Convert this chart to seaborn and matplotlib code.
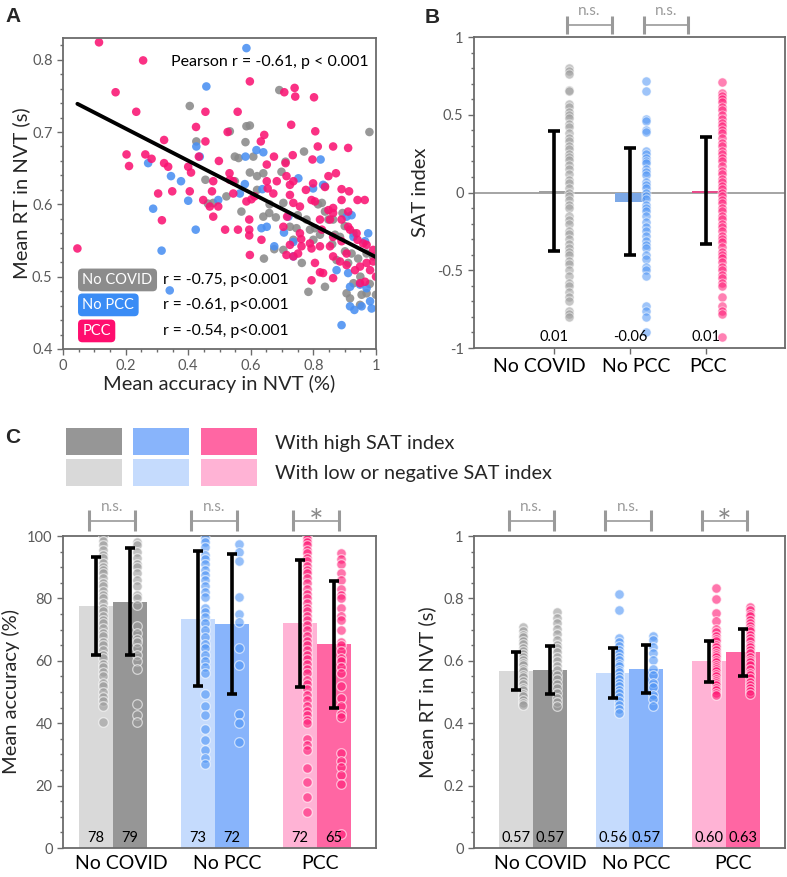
import numpy as np
import pandas as pd
import seaborn as sns
import matplotlib.pyplot as plt
from matplotlib.patches import Rectangle
from matplotlib.ticker import MultipleLocator
from matplotlib.transforms import ScaledTranslation

groups = ["No COVID", "No PCC", "PCC"]

# ---- panel A: accuracy vs RT per participant (acc, rt)
gray_pts = [(0.405, 0.736), (0.691, 0.758), (0.586, 0.708), (0.597, 0.709), (0.583, 0.686), (0.426, 0.687),
            (0.597, 0.644), (0.533, 0.701), (0.549, 0.666), (0.561, 0.664), (0.608, 0.666), (0.620, 0.639),
            (0.640, 0.643), (0.711, 0.659), (0.698, 0.645), (0.770, 0.673), (0.979, 0.700), (0.455, 0.634),
            (0.463, 0.601), (0.480, 0.602), (0.522, 0.611), (0.549, 0.632), (0.570, 0.590), (0.640, 0.583),
            (0.659, 0.588), (0.680, 0.582), (0.642, 0.525), (0.675, 0.538), (0.704, 0.602), (0.725, 0.569),
            (0.746, 0.567), (0.763, 0.519), (0.778, 0.579), (0.789, 0.565), (0.805, 0.567), (0.827, 0.602),
            (0.837, 0.590), (0.863, 0.579), (0.893, 0.588), (0.901, 0.535), (0.922, 0.532), (0.784, 0.479),
            (0.837, 0.486), (0.906, 0.477), (0.917, 0.470), (0.949, 0.461), (0.954, 0.475), (0.970, 0.477),
            (1.000, 0.475), (0.928, 0.491), (0.874, 0.523), (0.911, 0.519), (0.943, 0.525), (0.970, 0.532),
            (0.991, 0.528), (0.800, 0.551), (0.821, 0.558), (0.885, 0.555), (0.736, 0.551), (0.704, 0.537),
            (0.928, 0.560), (0.837, 0.625), (0.848, 0.579), (0.869, 0.558), (0.620, 0.620), (0.660, 0.600),
            (0.750, 0.585), (0.860, 0.545), (0.950, 0.500), (0.980, 0.490), (0.900, 0.570), (0.815, 0.600)]
blue_pts = [(0.586, 0.816), (0.458, 0.763), (0.426, 0.680), (0.437, 0.666), (0.272, 0.657), (0.345, 0.639),
            (0.377, 0.632), (0.400, 0.605), (0.288, 0.594), (0.424, 0.565), (0.315, 0.536), (0.341, 0.481),
            (0.583, 0.666), (0.618, 0.675), (0.640, 0.672), (0.823, 0.662), (0.496, 0.606), (0.581, 0.628),
            (0.565, 0.615), (0.637, 0.621), (0.651, 0.569), (0.634, 0.567), (0.675, 0.542), (0.706, 0.561),
            (0.736, 0.528), (0.752, 0.636), (0.736, 0.548), (0.720, 0.583), (0.799, 0.622), (0.831, 0.627),
            (0.874, 0.509), (0.911, 0.505), (0.917, 0.486), (0.931, 0.454), (0.917, 0.459), (0.890, 0.433),
            (0.975, 0.560), (0.965, 0.549), (0.981, 0.466), (0.986, 0.456), (0.954, 0.459), (0.949, 0.489),
            (0.928, 0.555), (0.906, 0.583), (0.922, 0.585), (0.970, 0.484)]
pink_pts = [(0.115, 0.824), (0.256, 0.799), (0.168, 0.755), (0.234, 0.728), (0.046, 0.539), (0.597, 0.770),
            (0.707, 0.755), (0.740, 0.761), (0.742, 0.749), (0.802, 0.748), (0.558, 0.728), (0.455, 0.728),
            (0.425, 0.707), (0.455, 0.687), (0.526, 0.700), (0.643, 0.696), (0.729, 0.710), (0.806, 0.701),
            (0.814, 0.680), (0.863, 0.680), (0.911, 0.678), (0.632, 0.687), (0.323, 0.689), (0.203, 0.669),
            (0.211, 0.653), (0.263, 0.669), (0.283, 0.663), (0.323, 0.657), (0.336, 0.652), (0.400, 0.652),
            (0.409, 0.644), (0.434, 0.666), (0.498, 0.660), (0.532, 0.643), (0.674, 0.666), (0.734, 0.668),
            (0.711, 0.657), (0.651, 0.655), (0.797, 0.662), (0.848, 0.639), (0.872, 0.643), (0.890, 0.621),
            (0.914, 0.618), (0.837, 0.624), (0.304, 0.615), (0.349, 0.618), (0.405, 0.618), (0.316, 0.578),
            (0.480, 0.583), (0.518, 0.565), (0.559, 0.565), (0.595, 0.579), (0.595, 0.565), (0.595, 0.557),
            (0.597, 0.530), (0.634, 0.551), (0.714, 0.530), (0.736, 0.528), (0.751, 0.532), (0.757, 0.560),
            (0.761, 0.552), (0.794, 0.539), (0.794, 0.495), (0.863, 0.498), (0.821, 0.506), (0.831, 0.505),
            (0.805, 0.519), (1.000, 0.500), (0.911, 0.590), (0.941, 0.606), (0.964, 0.606), (0.890, 0.606),
            (0.863, 0.595), (0.794, 0.606), (0.805, 0.604), (0.757, 0.597), (0.736, 0.602), (0.725, 0.613),
            (0.776, 0.620), (0.799, 0.629), (0.725, 0.627), (0.736, 0.632), (0.714, 0.639), (0.683, 0.632),
            (0.651, 0.632), (0.654, 0.622), (0.672, 0.615), (0.612, 0.611), (0.586, 0.604), (0.602, 0.607),
            (0.544, 0.615), (0.533, 0.634), (0.480, 0.632), (0.476, 0.618), (0.469, 0.597), (0.496, 0.597),
            (0.448, 0.606), (0.821, 0.579), (0.827, 0.565), (0.853, 0.579), (0.848, 0.592), (0.863, 0.588),
            (0.890, 0.579), (0.911, 0.569), (0.917, 0.565), (0.938, 0.560), (0.941, 0.551), (0.959, 0.546),
            (0.970, 0.544), (0.991, 0.537), (0.991, 0.521), (0.970, 0.519), (0.949, 0.514), (0.906, 0.516),
            (0.885, 0.521), (0.863, 0.528), (0.853, 0.542), (0.821, 0.542), (0.789, 0.546), (0.762, 0.542),
            (0.725, 0.544), (0.704, 0.569), (0.716, 0.583), (0.933, 0.509), (0.949, 0.491), (0.965, 0.493),
            (0.981, 0.509), (0.906, 0.532), (0.863, 0.555), (0.890, 0.549), (0.544, 0.632)]
# fitted line end points
fit_acc = [0.046, 1.0]
fit_rt = [0.739, 0.527]
group_r = ["r = -0.75, p<0.001", "r = -0.61, p<0.001", "r = -0.54, p<0.001"]
pearson_text = "Pearson r = -0.61, p < 0.001"

# ---- panel B: SAT index
sat_nocovid = [0.80, 0.78, 0.76, 0.66, 0.65, 0.57, 0.55, 0.52, 0.50, 0.48, 0.44, 0.42, 0.38, 0.35, 0.33,
               0.30, 0.28, 0.25, 0.23, 0.21, 0.18, 0.15, 0.12, 0.08, 0.06, 0.03, 0.0, -0.02, -0.05, -0.08,
               -0.10, -0.15, -0.18, -0.20, -0.25, -0.27, -0.30, -0.33, -0.36, -0.38, -0.40, -0.44, -0.46,
               -0.50, -0.54, -0.58, -0.60, -0.64, -0.67, -0.70, -0.76, -0.78, -0.80]
sat_nopcc = [0.72, 0.65, 0.47, 0.46, 0.40, 0.39, 0.27, 0.25, 0.22, 0.20, 0.19, 0.15, 0.13, 0.11, 0.07, 0.05,
             0.03, 0.0, -0.02, -0.04, -0.08, -0.10, -0.12, -0.15, -0.19, -0.22, -0.25, -0.28, -0.31, -0.34,
             -0.36, -0.40, -0.43, -0.48, -0.50, -0.54, -0.73, -0.76, -0.80, -0.90]
sat_pcc = [0.71, 0.64, 0.62, 0.60, 0.58, 0.55, 0.53, 0.50, 0.47, 0.45, 0.43, 0.40, 0.38, 0.35, 0.32, 0.30,
           0.27, 0.25, 0.22, 0.20, 0.17, 0.14, 0.12, 0.09, 0.07, 0.04, 0.02, 0.0, -0.02, -0.05, -0.07, -0.10,
           -0.12, -0.15, -0.17, -0.20, -0.22, -0.25, -0.28, -0.30, -0.32, -0.35, -0.38, -0.40, -0.42, -0.45,
           -0.48, -0.50, -0.53, -0.55, -0.58, -0.60, -0.67, -0.73, -0.76, -0.78, -0.93]
sat_mean = [0.01, -0.06, 0.01]
sat_sd = [0.385, 0.343, 0.344]
sat_labels = ["0.01", "-0.06", "0.01"]

# ---- panel C: accuracy / RT split by SAT index (low = light, high = dark)
acc_low_mean = [77.5, 73.5, 72.0]
acc_high_mean = [79.0, 71.8, 65.3]
acc_low_sd = [15.8, 21.6, 20.3]
acc_high_sd = [17.3, 22.5, 20.3]
acc_low_lbl = ["78", "73", "72"]
acc_high_lbl = ["79", "72", "65"]
acc_low_pts = [
    [100, 98.5, 97, 95.5, 94, 93, 91.5, 90, 89, 88, 86.5, 85, 84, 82.5, 81, 80, 78.5, 77, 76, 74.5, 73, 72,
     70.5, 69, 68, 66, 65, 63.5, 62, 61, 59, 58, 56.5, 55, 53, 52, 50, 48.5, 47, 45.5, 40.5],
    [99.5, 98, 96.5, 94, 92.5, 91, 89, 87.5, 86, 84, 82, 80.5, 77, 75.5, 74, 72, 70, 67.5, 65.5, 64, 62, 60,
     58, 56, 49.5, 45.5, 42.5, 38, 34.5, 31.5, 29, 27],
    [100, 99, 98, 97, 95.5, 94.5, 93, 92, 90.5, 89, 88, 86.5, 85, 83, 81.5, 80, 78.5, 77, 76, 74.5, 73, 71.5,
     70, 68, 66.5, 65, 63.5, 62, 60.5, 59, 57.5, 56, 54, 52.5, 51, 49, 47.5, 45.5, 44, 42.5, 41, 40, 35, 33,
     31.5, 25.5, 21, 16.5, 11.5]]
acc_high_pts = [
    [98, 97, 95, 93, 91, 90, 88, 86, 84, 81, 80, 78, 71, 69, 67, 66, 64, 62, 60, 57.5, 46, 42.5, 40.5],
    [97.5, 95, 92, 80.5, 75, 72.5, 64, 58.5, 43, 40, 34],
    [94.5, 92.5, 91, 88, 86, 83, 81, 80, 77, 74.5, 73, 70, 66, 65, 63, 61, 60, 58, 56, 52, 48, 45.5, 43, 42,
     30.5, 28, 26, 23.5, 20.5, 4.5]]

rt_low_mean = [0.567, 0.562, 0.598]
rt_high_mean = [0.571, 0.574, 0.627]
rt_low_sd = [0.061, 0.080, 0.065]
rt_high_sd = [0.078, 0.078, 0.076]
rt_low_lbl = ["0.57", "0.56", "0.60"]
rt_high_lbl = ["0.57", "0.57", "0.63"]
rt_low_pts = [
    [0.708, 0.697, 0.684, 0.676, 0.662, 0.655, 0.641, 0.633, 0.622, 0.611, 0.604, 0.592, 0.586, 0.573, 0.566,
     0.553, 0.547, 0.534, 0.527, 0.512, 0.505, 0.493, 0.486, 0.474, 0.466, 0.458],
    [0.815, 0.763, 0.672, 0.661, 0.648, 0.635, 0.624, 0.612, 0.603, 0.591, 0.582, 0.571, 0.563, 0.552, 0.541,
     0.528, 0.519, 0.507, 0.496, 0.485, 0.472, 0.458, 0.446, 0.434],
    [0.832, 0.798, 0.754, 0.726, 0.703, 0.692, 0.681, 0.671, 0.662, 0.652, 0.643, 0.634, 0.626, 0.618, 0.611,
     0.603, 0.596, 0.588, 0.581, 0.573, 0.566, 0.558, 0.551, 0.543, 0.536, 0.528, 0.521, 0.513, 0.506, 0.498,
     0.491]]
rt_high_pts = [
    [0.758, 0.736, 0.722, 0.703, 0.686, 0.668, 0.652, 0.641, 0.628, 0.613, 0.598, 0.584, 0.571, 0.556, 0.542,
     0.527, 0.513, 0.497, 0.482, 0.468, 0.455],
    [0.678, 0.668, 0.643, 0.624, 0.601, 0.574, 0.553, 0.528, 0.517, 0.491, 0.478, 0.456],
    [0.771, 0.762, 0.751, 0.742, 0.731, 0.722, 0.713, 0.703, 0.694, 0.683, 0.672, 0.663, 0.652, 0.643, 0.634,
     0.624, 0.613, 0.604, 0.596, 0.585, 0.574, 0.562, 0.553, 0.544, 0.532, 0.521, 0.512, 0.503, 0.494]]

# colours
pt_col = ["#8a8a8a", "#4a90f2", "#fa1473"]
box_col = ["#8c8c8c", "#3a8cf5", "#ff0d6e"]
strip_col = ["#9a9a9a", "#4f95f5", "#ff1a75"]
bar_dark = ["#969696", "#88b4fb", "#ff66a3"]
bar_light = ["#d9d9d9", "#c5dbfd", "#ffb3d5"]
bracket_col = "#9a9a9a"

sns.set_theme(style="ticks")
plt.rcParams["font.family"] = ["Lato", "DejaVu Sans"]
plt.rcParams["axes.linewidth"] = 1.3

W, H = 787, 877
LABEL_FS = 14.5
CAT_FS = 14


def rect(l, t, r, b):
    return [l / W, 1 - b / H, (r - l) / W, (b - t) / H]


def style_axes(ax):
    for s in ax.spines.values():
        s.set_visible(True)
        s.set_color("#6b6b6b")
        s.set_linewidth(1.3)
    ax.tick_params(which="both", direction="out", color="#6b6b6b", labelcolor="#5a5a5a",
                   labelsize=10.5, width=1)
    ax.tick_params(which="major", length=4)
    ax.tick_params(which="minor", length=2.5)


def shift_xlabels(ax, shifts_px):
    for lab, dx in zip(ax.get_xticklabels(), shifts_px):
        lab.set_transform(lab.get_transform() + ScaledTranslation(dx / 100, 0, fig.dpi_scale_trans))


def bracket(ax, x1, x2, ylo, ymid, yhi, label, ytxt, fs, col=bracket_col):
    kw = dict(color=bracket_col, clip_on=False, solid_capstyle="butt")
    ax.plot([x1, x1], [ylo, yhi], lw=2.2, **kw)
    ax.plot([x2, x2], [ylo, yhi], lw=2.2, **kw)
    ax.plot([x1, x2], [ymid, ymid], lw=1.2, **kw)
    ax.text((x1 + x2) / 2, ytxt, label, ha="center", va="center", color=col, fontsize=fs, clip_on=False)


fig = plt.figure(figsize=(W / 100, H / 100), dpi=100)
axA = fig.add_axes(rect(63, 38, 376, 349))
axB = fig.add_axes(rect(474, 37, 785, 348))
axC1 = fig.add_axes(rect(63, 536, 376, 848))
axC2 = fig.add_axes(rect(474, 536, 785, 848))

# ---------------- A
rows = []
for g, pts in zip(groups, [gray_pts, blue_pts, pink_pts]):
    for a, r in pts:
        rows.append((g, a, r))
dfA = pd.DataFrame(rows, columns=["group", "acc", "rt"])
sns.scatterplot(data=dfA, x="acc", y="rt", hue="group", palette=dict(zip(groups, pt_col)),
                s=38, alpha=0.88, linewidth=0, legend=False, ax=axA)
sns.lineplot(x=fit_acc, y=fit_rt, color="black", lw=2.8, ax=axA)
axA.set_xlim(0, 1)
axA.set_ylim(0.4, 0.83)
axA.set_xticks([0, 0.2, 0.4, 0.6, 0.8, 1])
axA.set_xticklabels(["0", "0.2", "0.4", "0.6", "0.8", "1"])
axA.set_yticks([0.4, 0.5, 0.6, 0.7, 0.8])
axA.set_yticklabels(["0.4", "0.5", "0.6", "0.7", "0.8"])
axA.xaxis.set_minor_locator(MultipleLocator(0.05))
axA.yaxis.set_minor_locator(MultipleLocator(0.02))
axA.set_xlabel("Mean accuracy in NVT (%)", fontsize=LABEL_FS, labelpad=1)
axA.set_ylabel("Mean RT in NVT (s)", fontsize=LABEL_FS, labelpad=1)
style_axes(axA)
axA.text(0.975, 0.797, pearson_text, ha="right", va="center", fontsize=11.5, color="black")
for yy, g, c, rt in zip([0.4955, 0.461, 0.425], groups, box_col, group_r):
    axA.text(0.062, yy, g, ha="left", va="center", fontsize=10.5, color="white",
             bbox=dict(boxstyle="round,pad=0.3,rounding_size=0.3", fc=c, ec="none"))
    axA.text(0.32, yy, rt, ha="left", va="center", fontsize=11.3, color="black")

# ---------------- B
sns.barplot(x=groups, y=sat_mean, hue=groups, palette=["#a0a0a0", "#6aa5f8", "#ff3385"],
            width=0.39, legend=False, linewidth=0, ax=axB)
axB.axhline(0, color="#8c8c8c", lw=1.1, zorder=0.8)
for i, (vals, c) in enumerate(zip([sat_nocovid, sat_nopcc, sat_pcc], strip_col)):
    sns.scatterplot(x=[i + 0.2] * len(vals), y=vals, color=c, s=44, alpha=0.55,
                    edgecolor="white", linewidth=0.7, ax=axB, zorder=3)
axB.errorbar(range(3), sat_mean, yerr=sat_sd, fmt="none", ecolor="black",
             elinewidth=2.6, capsize=4, capthick=2.6, zorder=4)
for i, t in enumerate(sat_labels):
    axB.text(i, -0.975, t, ha="center", va="bottom", fontsize=10.5, color="black", zorder=5)
bracket(axB, 0.17, 0.76, 1.02, 1.077, 1.135, "n.s.", 1.167, 11)
bracket(axB, 1.18, 1.76, 1.02, 1.077, 1.135, "n.s.", 1.167, 11)
axB.set_xlim(-1.05, 3.03)
axB.set_ylim(-1, 1)
axB.set_yticks([-1, -0.5, 0, 0.5, 1])
axB.set_yticklabels(["-1", "-0.5", "0", "0.5", "1"])
axB.yaxis.set_minor_locator(MultipleLocator(0.1))
axB.set_ylabel("SAT index", fontsize=LABEL_FS, labelpad=6)
style_axes(axB)
axB.tick_params(axis="x", labelsize=CAT_FS, labelcolor="black", length=4)
shift_xlabels(axB, [-15, 6, 2])


# ---------------- C
def panel_c(ax, low_mean, high_mean, low_sd, high_sd, low_lbl, high_lbl, low_pts, high_pts,
            width, ymax, yname, ticks, ticklbl, minor, lab_y, br_lo, br_hi, br_y, star_y):
    df = pd.DataFrame({"group": groups * 2,
                       "level": ["low"] * 3 + ["high"] * 3,
                       "val": list(low_mean) + list(high_mean)})
    sns.barplot(data=df, x="group", y="val", hue="level", hue_order=["low", "high"],
                width=width, legend=False, linewidth=0, ax=ax)
    for cont, cols in zip(ax.containers, [bar_light, bar_dark]):
        for p, c in zip(cont, cols):
            p.set_facecolor(c)
            p.set_edgecolor("none")
    off = width / 4
    for sgn, pts_all in [(-1, low_pts), (1, high_pts)]:
        for i, vals in enumerate(pts_all):
            sns.scatterplot(x=[i + sgn * off + 0.07] * len(vals), y=vals, color=strip_col[i], s=48,
                            alpha=0.6, edgecolor="white", linewidth=0.9, ax=ax, zorder=3)
    ax.errorbar(np.arange(3) - off, low_mean, yerr=low_sd, fmt="none", ecolor="black",
                elinewidth=2.6, capsize=3.5, capthick=2.6, zorder=4)
    ax.errorbar(np.arange(3) + off, high_mean, yerr=high_sd, fmt="none", ecolor="black",
                elinewidth=2.6, capsize=3.5, capthick=2.6, zorder=4)
    for i in range(3):
        ax.text(i - off, lab_y, low_lbl[i], ha="center", va="bottom", fontsize=10.5, color="black", zorder=5)
        ax.text(i + off, lab_y, high_lbl[i], ha="center", va="bottom", fontsize=10.5, color="black", zorder=5)
        if i == 2:
            bracket(ax, i + br_lo, i + br_hi, br_y[0], br_y[1], br_y[2], "*", star_y, 25, col="#8a8a8a")
        else:
            bracket(ax, i + br_lo, i + br_hi, br_y[0], br_y[1], br_y[2], "n.s.", br_y[3], 11)
    ax.set_ylim(0, ymax)
    ax.set_yticks(ticks)
    ax.set_yticklabels(ticklbl)
    ax.yaxis.set_minor_locator(MultipleLocator(minor))
    ax.set_xlabel("")
    ax.set_ylabel(yname, fontsize=LABEL_FS, labelpad=5)
    style_axes(ax)
    ax.tick_params(axis="x", labelsize=CAT_FS, labelcolor="black", length=0, pad=5)


panel_c(axC1, acc_low_mean, acc_high_mean, acc_low_sd, acc_high_sd, acc_low_lbl, acc_high_lbl,
        acc_low_pts, acc_high_pts, 0.667, 100, "Mean accuracy (%)",
        [0, 20, 40, 60, 80, 100], ["0", "20", "40", "60", "80", "100"], 5, 1.0,
        -0.235, 0.216, (101.6, 104.8, 108.4, 109.3), 104.0)
axC1.set_xlim(-0.49, 2.58)
shift_xlabels(axC1, [8, 12, 3])
panel_c(axC2, rt_low_mean, rt_high_mean, rt_low_sd, rt_high_sd, rt_low_lbl, rt_high_lbl,
        rt_low_pts, rt_high_pts, 0.70, 1, "Mean RT in NVT (s)",
        [0, 0.2, 0.4, 0.6, 0.8, 1], ["0", "0.2", "0.4", "0.6", "0.8", "1"], 0.05, 0.01,
        -0.25, 0.22, (1.016, 1.048, 1.084, 1.093), 1.040)
axC2.set_xlim(-0.61, 2.61)
shift_xlabels(axC2, [7, 7, 7])

# legend swatches for panel C
for j in range(3):
    x0 = [66, 133, 201][j]
    fig.add_artist(Rectangle((x0 / W, 1 - 455 / H), 56 / W, 27 / H, transform=fig.transFigure,
                             fc=bar_dark[j], ec="none"))
    fig.add_artist(Rectangle((x0 / W, 1 - 486 / H), 56 / W, 27 / H, transform=fig.transFigure,
                             fc=bar_light[j], ec="none"))
fig.text(275 / W, 1 - 443 / H, "With high SAT index", fontsize=14.3, va="center", ha="left")
fig.text(275 / W, 1 - 474 / H, "With low or negative SAT index", fontsize=14.3, va="center", ha="left")

# panel letters
for (x, y), t in zip([(5, 7), (425, 8), (5, 428)], ["A", "B", "C"]):
    fig.text(x / W, 1 - y / H, t, fontsize=15, fontweight="bold", va="top", ha="left",
             family=["Liberation Sans", "DejaVu Sans"])

fig.savefig("out.png", dpi=100)
